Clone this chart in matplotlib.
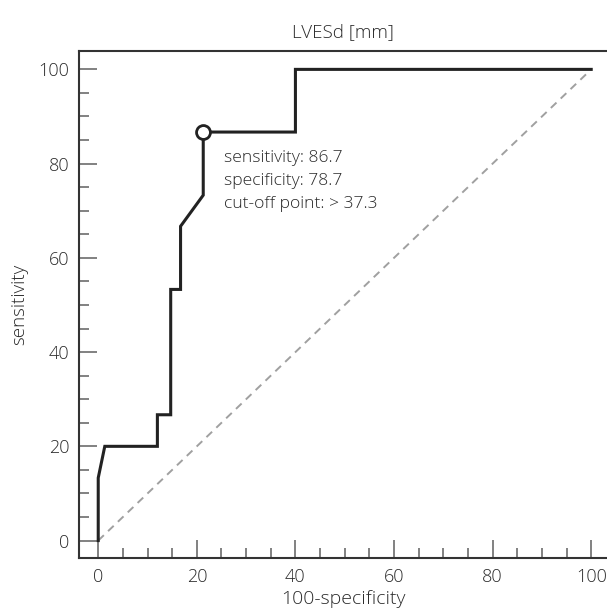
import matplotlib
matplotlib.use("Agg")
import matplotlib.pyplot as plt
from matplotlib.ticker import MultipleLocator

plt.rcParams['font.family'] = ['Open Sans', 'DejaVu Sans']

# ROC curve data (100-specificity, sensitivity)
fpr = [0, 0, 1.33, 12.0, 12.0, 14.7, 14.7, 16.7, 16.7, 21.3, 21.3, 40.0, 40.0, 100]
tpr = [0, 13.3, 20.0, 20.0, 26.7, 26.7, 53.3, 53.3, 66.7, 73.3, 86.7, 86.7, 100, 100]
cut_x = [21.3]
cut_y = [86.7]
diag_x = [0, 100]
diag_y = [0, 100]
title = "LVESd [mm]"
info_lines = ["sensitivity: 86.7", "specificity: 78.7", "cut-off point: > 37.3"]

txt = '#2a2a2a'
W = 'light'
fig = plt.figure(figsize=(6.07, 6.10), dpi=100)
ax = fig.add_axes([79/607, 1 - 558/610, 1 - 79/607, (558 - 51)/610])

ax.plot(diag_x, diag_y, color='#a0a0a0', lw=1.4, ls=(0, (4, 3)), zorder=1)
ax.plot(fpr, tpr, color='#222222', lw=2.2, solid_joinstyle='miter', zorder=2)
ax.plot(cut_x, cut_y, 'o', ms=10, mfc='white', mec='#222222', mew=2, zorder=3)

ax.text(25.6, 76.3, "\n".join(info_lines), fontsize=12.6, color=txt,
        va='center', ha='left', linespacing=1.55, fontweight=W)

ax.set_xlim(-3.9, 103.2)
ax.set_ylim(-3.7, 103.9)

ax.spines['right'].set_visible(False)
for s in ['left', 'top', 'bottom']:
    ax.spines[s].set_color('#333333')
    ax.spines[s].set_linewidth(1.5)

ax.xaxis.set_major_locator(MultipleLocator(20))
ax.xaxis.set_minor_locator(MultipleLocator(5))
ax.yaxis.set_major_locator(MultipleLocator(20))
ax.yaxis.set_minor_locator(MultipleLocator(5))
ax.tick_params(which='major', direction='in', length=13, width=1.3, color='#777777',
               labelsize=13, labelcolor=txt, pad=7)
ax.tick_params(which='minor', direction='in', length=7, width=1.3, color='#777777')
ax.tick_params(axis='y', which='both', right=False)
ax.tick_params(axis='x', which='both', top=False)
for lab in ax.get_xticklabels() + ax.get_yticklabels():
    lab.set_fontweight(W)

ax.set_xlabel("100-specificity", fontsize=14, color=txt, labelpad=3, fontweight=W)
ax.set_ylabel("sensitivity", fontsize=13.5, color=txt, labelpad=7, fontweight=W)
ax.set_title(title, fontsize=13.5, color=txt, pad=10, fontweight=W)

fig.savefig("out.png", dpi=100)
